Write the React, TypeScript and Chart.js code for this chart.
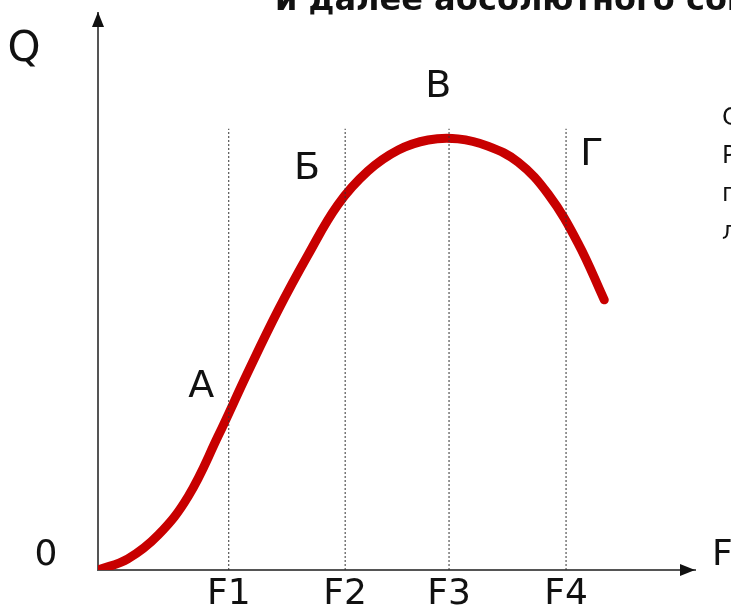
import React, { useEffect, useRef } from "react";
import { Chart, registerables } from "chart.js";

Chart.register(...registerables);

// Factor input F (x) and output Q (y), in chart units
const CURVE_X = [0, 0.5, 1.01, 1.51, 2.01, 2.51, 3.02, 3.52, 4.02, 4.52, 5.03, 5.53, 6.03, 6.53, 7.04, 7.54, 8.04, 8.48];
const CURVE_Y = [0, 0.2, 0.63, 1.32, 2.4, 3.55, 4.67, 5.66, 6.56, 7.16, 7.54, 7.72, 7.74, 7.61, 7.32, 6.75, 5.87, 4.85];

const F_VALUES = [2.19, 4.14, 5.88, 7.84];
const F_LABELS = ["F1", "F2", "F3", "F4"];
const GUIDE_TOP = 7.92;

const POINT_NAMES = ["А", "Б", "В", "Г"];
const POINT_X = [1.73, 3.5, 5.7, 8.27];
const POINT_Y = [3.29, 7.2, 8.67, 7.45];

const TITLE = "и далее абсолютного сокращения";
const SIDE_TEXT = ["Снижение", "Рост", "прироста", "лишь"];

const X_MAX = 10;
const Y_MAX = 10;

const FONT = '"DejaVu Sans", Verdana, sans-serif';

const decorPlugin = {
  id: "decor",
  afterDraw(chart: any) {
    const { ctx, chartArea, scales } = chart;
    const { left, right, top, bottom } = chartArea;
    ctx.save();
    // arrow heads
    ctx.fillStyle = "#111";
    ctx.beginPath();
    ctx.moveTo(left, top - 1);
    ctx.lineTo(left - 6, top + 14);
    ctx.lineTo(left + 6, top + 14);
    ctx.closePath();
    ctx.fill();
    ctx.beginPath();
    ctx.moveTo(right, bottom);
    ctx.lineTo(right - 15, bottom - 6);
    ctx.lineTo(right - 15, bottom + 6);
    ctx.closePath();
    ctx.fill();

    ctx.fillStyle = "#111";
    ctx.textAlign = "center";
    ctx.textBaseline = "middle";
    ctx.font = `42px ${FONT}`;
    ctx.fillText("Q", left - 74, top + 37);
    ctx.font = `36px ${FONT}`;
    ctx.fillText("0", left - 52, bottom - 14);
    ctx.textAlign = "left";
    ctx.fillText("F", right + 17, bottom - 14);

    ctx.textAlign = "center";
    ctx.font = `38px ${FONT}`;
    POINT_NAMES.forEach((n, i) => {
      ctx.fillText(n, scales.x.getPixelForValue(POINT_X[i]), scales.y.getPixelForValue(POINT_Y[i]));
    });

    ctx.textAlign = "left";
    ctx.textBaseline = "alphabetic";
    ctx.font = `bold 32px ${FONT}`;
    ctx.fillText(TITLE, 275, 10);

    ctx.font = `24px ${FONT}`;
    ctx.textBaseline = "middle";
    SIDE_TEXT.forEach((t, i) => {
      ctx.fillText(t, 722, 119 + i * 38);
    });
    ctx.restore();
  },
};

export default function App() {
  const ref = useRef<HTMLCanvasElement | null>(null);
  useEffect(() => {
    if (!ref.current) return;
    const curve = CURVE_X.map((x, i) => ({ x, y: CURVE_Y[i] }));
    const guides = F_VALUES.map((f) => ({
      data: [
        { x: f, y: 0 },
        { x: f, y: GUIDE_TOP },
      ],
      borderColor: "#333",
      borderWidth: 1,
      borderDash: [2, 2],
      pointRadius: 0,
      showLine: true,
      order: 0,
    }));
    const chart = new Chart(ref.current, {
      type: "scatter",
      data: {
        datasets: [
          ...guides,
          {
            data: curve,
            borderColor: "#c80000",
            borderWidth: 9,
            pointRadius: 0,
            showLine: true,
            tension: 0.4,
            borderCapStyle: "round",
            order: 1,
          } as any,
        ],
      },
      options: {
        responsive: false,
        animation: false,
        events: [],
        layout: { padding: { left: 98, right: 36, top: 13, bottom: 0 } },
        plugins: { legend: { display: false }, tooltip: { enabled: false } },
        scales: {
          x: {
            type: "linear",
            min: 0,
            max: X_MAX,
            grid: { display: false, drawTicks: false },
            border: { display: true, color: "#555", width: 2 },
            afterBuildTicks: (s: any) => {
              s.ticks = F_VALUES.map((v) => ({ value: v }));
            },
            afterFit: (s: any) => {
              s.height = 40;
            },
            ticks: {
              autoSkip: false,
              maxRotation: 0,
              padding: 3,
              color: "#111",
              font: { family: FONT, size: 36 },
              callback: (v: any) => {
                const i = F_VALUES.indexOf(Number(v));
                return i >= 0 ? F_LABELS[i] : "";
              },
            },
          },
          y: {
            type: "linear",
            min: 0,
            max: Y_MAX,
            grid: { display: false, drawTicks: false },
            border: { display: true, color: "#555", width: 2 },
            ticks: { display: false },
            afterFit: (s: any) => {
              s.width = 0;
            },
          },
        },
      },
      plugins: [decorPlugin],
    });
    return () => chart.destroy();
  }, []);
  return (
    <div style={{ position: "absolute", left: 0, top: 0, width: 731, height: 610, background: "#fff", overflow: "hidden" }}>
      <canvas ref={ref} width={731} height={610} style={{ display: "block" }} />
    </div>
  );
}
